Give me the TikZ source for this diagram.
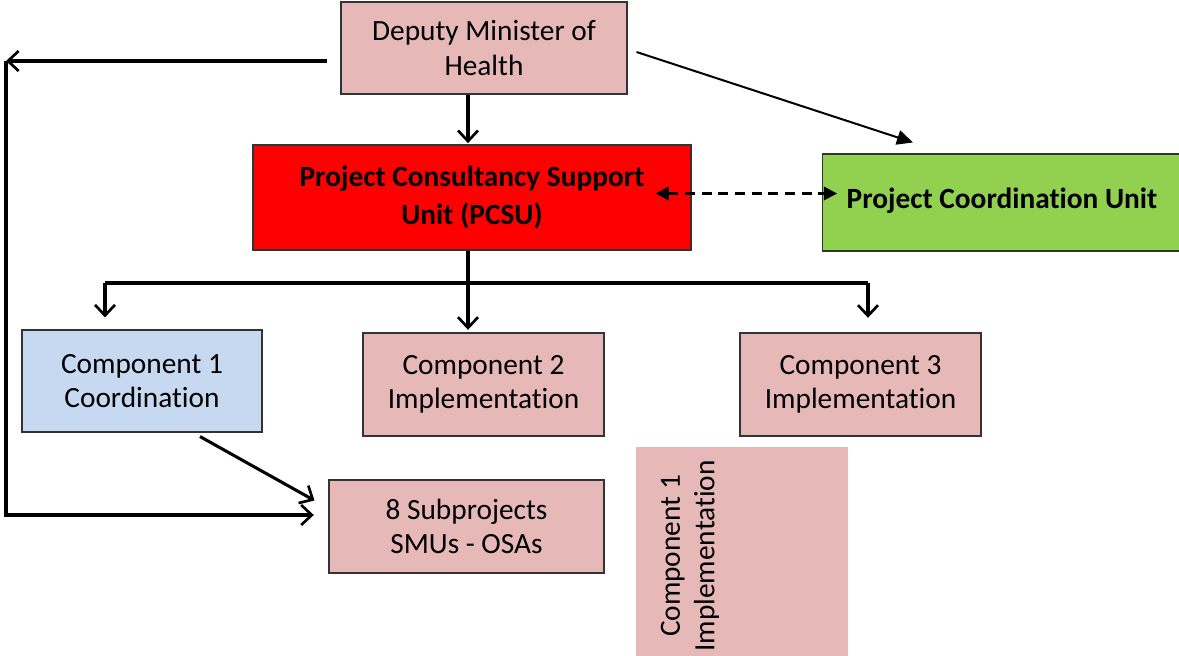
\documentclass[tikz,border=0pt]{standalone}
\usepackage{fontspec}
\setmainfont{Carlito}[Ligatures=NoCommon]
\usetikzlibrary{arrows.meta}
\definecolor{rosebox}{HTML}{E6B9B8}
\definecolor{pcsured}{HTML}{FF0000}
\definecolor{pcugreen}{HTML}{92D050}
\definecolor{coordblue}{HTML}{C6D9F1}
\begin{document}
\begin{tikzpicture}[x=0.75pt,y=-0.75pt,
    unit/.style={draw=black!80,line width=0.8pt,align=center,inner sep=0pt,
      font=\fontsize{22}{26}\selectfont},
    link/.style={line width=2.3pt,-{Straight Barb[length=8pt,width=15pt,line width=2pt]}},
    thinlink/.style={line width=1.5pt,-{Triangle[length=12pt,width=11pt]}}]
    \useasboundingbox (0,0) rectangle (1179,656);

    \node[unit,fill=rosebox,minimum width=214.5pt,minimum height=69pt] (dmh) at (484,48) {Deputy Minister of\\Health};
    \node[unit,fill=pcsured,minimum width=328.5pt,minimum height=78.75pt,font=\fontsize{22}{28}\selectfont\bfseries] (pcsu) at (472,197.5) {\raisebox{3pt}{Project Consultancy Support}\\\raisebox{3pt}{Unit (PCSU)}};
    \node[unit,fill=pcugreen,minimum width=269pt,minimum height=72.75pt,font=\fontsize{22}{26}\selectfont\bfseries] (pcu) at (1002,202.5) {\raisebox{6pt}{Project Coordination Unit}};
    \node[unit,fill=coordblue,minimum width=180pt,minimum height=76.5pt] (cone) at (142,381) {Component 1\\Coordination};
    \node[unit,fill=rosebox,minimum width=180.75pt,minimum height=77.25pt] (ctwo) at (483.5,384.5) {Component 2\\Implementation};
    \node[unit,fill=rosebox,minimum width=180.75pt,minimum height=77.25pt] (cthree) at (860.5,384.5) {Component 3\\Implementation};
    \node[unit,fill=rosebox,minimum width=206.25pt,minimum height=69.75pt] (sub) at (466.5,526.5) {8 Subprojects\\SMUs - OSAs};
    \node[fill=rosebox,minimum width=159pt,minimum height=162pt,inner sep=0pt] (conei) at (742,555) {};
    \node[unit,draw=none,rotate=90] (coneitext) at (690,556) {Component 1\\Implementation};

    \coordinate (lt) at (6,61);
    \coordinate (lb) at (6,515);
    \coordinate (bl) at (105,283);
    \coordinate (br) at (868,283);

    \draw[link] ([shift={(-13,13)}]dmh.west) -- (lt);
    \draw[link,shorten >=11pt] (lt) -- (lb) -- (lb -| sub.west);
    \draw[link,shorten >=1pt] ([xshift=-12pt]dmh.south) -- ([xshift=-12pt]dmh.south |- pcsu.north);
    \draw[thinlink] ([shift={(9,4)}]dmh.east) -- ([shift={(-89,-11)}]pcu.north);
    \draw[line width=2pt,dash pattern=on 7.5pt off 5pt,{Triangle[length=10pt,width=10pt]}-{Triangle[length=10pt,width=10pt]}] ([shift={(-36,-4)}]pcsu.east) -- ([shift={(15,-9)}]pcu.west);

    \draw[line width=2.3pt] (bl) -- (br);
    \draw[link,shorten >=2pt] ([xshift=-3pt]pcsu.south) -- ([xshift=-3pt]pcsu.south |- ctwo.north);
    \draw[link,shorten >=9pt] (bl) -- (bl |- cone.north);
    \draw[link,shorten >=11pt] (br) -- (br |- cthree.north);
    \draw[link] ([shift={(58,4)}]cone.south) -- ([shift={(-14,-26)}]sub.west);
\end{tikzpicture}
\end{document}
